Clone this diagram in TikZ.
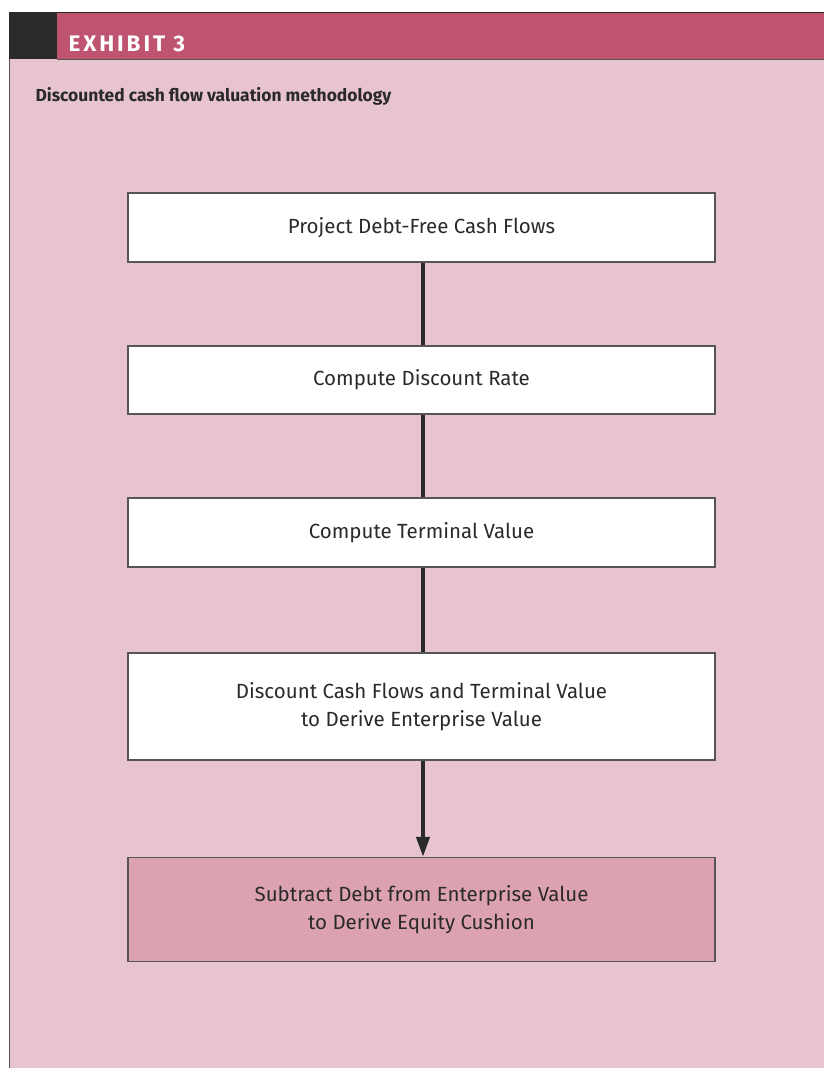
\documentclass[tikz,border=0pt]{standalone}
\usepackage{fontspec}
\setmainfont{Fira Sans}
\usepackage{tikz}
\usetikzlibrary{positioning,arrows.meta}

\definecolor{exhibitred}{HTML}{BE5470}
\definecolor{panelpink}{HTML}{E8C4CE}
\definecolor{resultpink}{HTML}{DDA2B2}
\definecolor{inkgray}{HTML}{2A2A2A}
\definecolor{framegray}{HTML}{555555}

\tikzset{
    stepbox/.style={draw=framegray, line width=1.3pt, fill=white, minimum width=587pt,
        align=center, text=inkgray, font=\fontsize{20.5}{28}\selectfont, inner sep=0pt},
    conn/.style={line width=4pt, draw=inkgray}
}

\begin{document}
\begin{tikzpicture}[x=1pt,y=-1pt]

\useasboundingbox (0,0) rectangle (824,1068);

% panel and header band
\fill[panelpink] (9,59) rectangle (824,1068);
\draw[framegray, line width=1.3pt] (9.5,59) -- (9.5,1068);
\fill[exhibitred] (57,12) rectangle (824,59);
\fill[inkgray] (9,12) rectangle (57,59);
\draw[inkgray, line width=1.2pt] (9,12.5) -- (824,12.5);
\draw[framegray, line width=1pt] (57,59) -- (824,59);

\node[anchor=base west, text=white, font=\fontsize{22.5}{24}\bfseries\selectfont\addfontfeatures{LetterSpace=13}] (exhibit) at (65,51.5)
    {EXHIBIT 3};
\node[anchor=base west, text=inkgray, font=\fontsize{17.4}{20}\bfseries\selectfont] (title) at (32,101)
    {Discounted cash flow valuation methodology};

% steps
\foreach \name/\ypos/\hgt/\label in {b1/227.5/69/{Project Debt-Free Cash Flows},
        b2/380/68/{Compute Discount Rate},
        b3/532.5/69/{Compute Terminal Value},
        b4/706.5/107/{Discount Cash Flows and Terminal Value\\to Derive Enterprise Value}} {
    \node[stepbox, minimum height=\hgt pt] (\name) at (421.5,\ypos) {\label};
}
\node[stepbox, fill=resultpink, minimum height=104pt] (b5) at (421.5,909.5)
    {Subtract Debt from Enterprise Value\\to Derive Equity Cushion};

\draw[conn] (b1.south -| 423,0) -- (b2.north -| 423,0);
\draw[conn] (b2.south -| 423,0) -- (b3.north -| 423,0);
\draw[conn] (b3.south -| 423,0) -- (b4.north -| 423,0);
\draw[conn, -{Triangle[width=13pt,length=20pt]}] (b4.south -| 423,0) -- (b5.north -| 423,0);

\end{tikzpicture}
\end{document}
